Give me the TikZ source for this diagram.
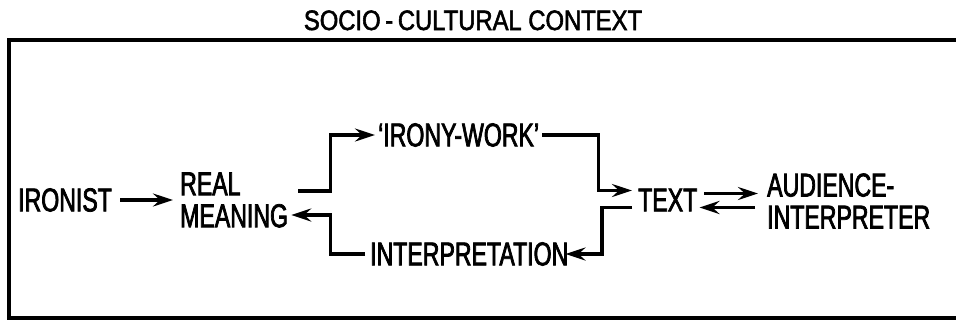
\documentclass[tikz,border=0pt]{standalone}
\usepackage{fontspec}
\usetikzlibrary{arrows.meta,calc}
\newfontfamily\diagfont[FakeStretch=0.70,FakeBold=2.2]{Liberation Sans}
\newfontfamily\headfont[FakeStretch=0.85,FakeBold=2.0]{Liberation Sans}
\begin{document}
\begin{tikzpicture}[x=1pt,y=-1pt,
  lbl/.style={inner sep=0pt,font=\diagfont\fontsize{33}{32}\selectfont,align=left},
  arr/.style={line width=3.2pt,-{Stealth[length=20pt,width=13pt,inset=7pt]}}]
  \useasboundingbox (0,0) rectangle (956,322);
  % frame of the context, open on the right
  \draw[line width=3.6pt] (960,40) -- (9,40) -- (9,318) -- (960,318);
  \node[inner sep=0pt,anchor=base,font=\headfont\fontsize{28}{28}\selectfont] (title) at (473,30) {SOCIO\,-\,CULTURAL CONTEXT};
  % labels
  \node[lbl,anchor=west] (ironist) at (18,200) {IRONIST};
  \node[lbl,anchor=west] (realm) at (180,200) {REAL\\MEANING};
  \node[lbl,anchor=west] (work) at (378,135) {‘IRONY-WORK’};
  \node[lbl,anchor=west] (interp) at (370,254) {INTERPRETATION};
  \node[lbl,anchor=west] (text) at (638,200) {TEXT};
  \node[lbl,anchor=west] (aud) at (767,201) {AUDIENCE-\\INTERPRETER};
  % connectors
  \draw[arr] ([xshift=8pt]ironist.east) -- ([xshift=-7pt]realm.west |- ironist.east);
  \draw[arr] ($(realm.east)+(10,-9)$) -- ++(32,0) |- ([xshift=-3pt]work.west);
  \draw[arr] ([xshift=3pt]work.east) -- ++(56,0) |- ($(text.west)+(-6,-9.5)$);
  \draw[arr] ($(text.west)+(-6,7.5)$) -- ++(-30,0) |- ([xshift=-3pt]interp.east);
  \draw[arr] ([xshift=-5pt]interp.west) -| ($(realm.east)+(42,15)$) -- ($(realm.east)+(3,15)$);
  \draw[arr] ($(text.east)+(7,-6.5)$) -- ($(text.east -| aud.west)+(-9,-6.5)$);
  \draw[arr] ($(text.east -| aud.west)+(-12,7.5)$) -- ($(text.east)+(2,7.5)$);
\end{tikzpicture}
\end{document}
